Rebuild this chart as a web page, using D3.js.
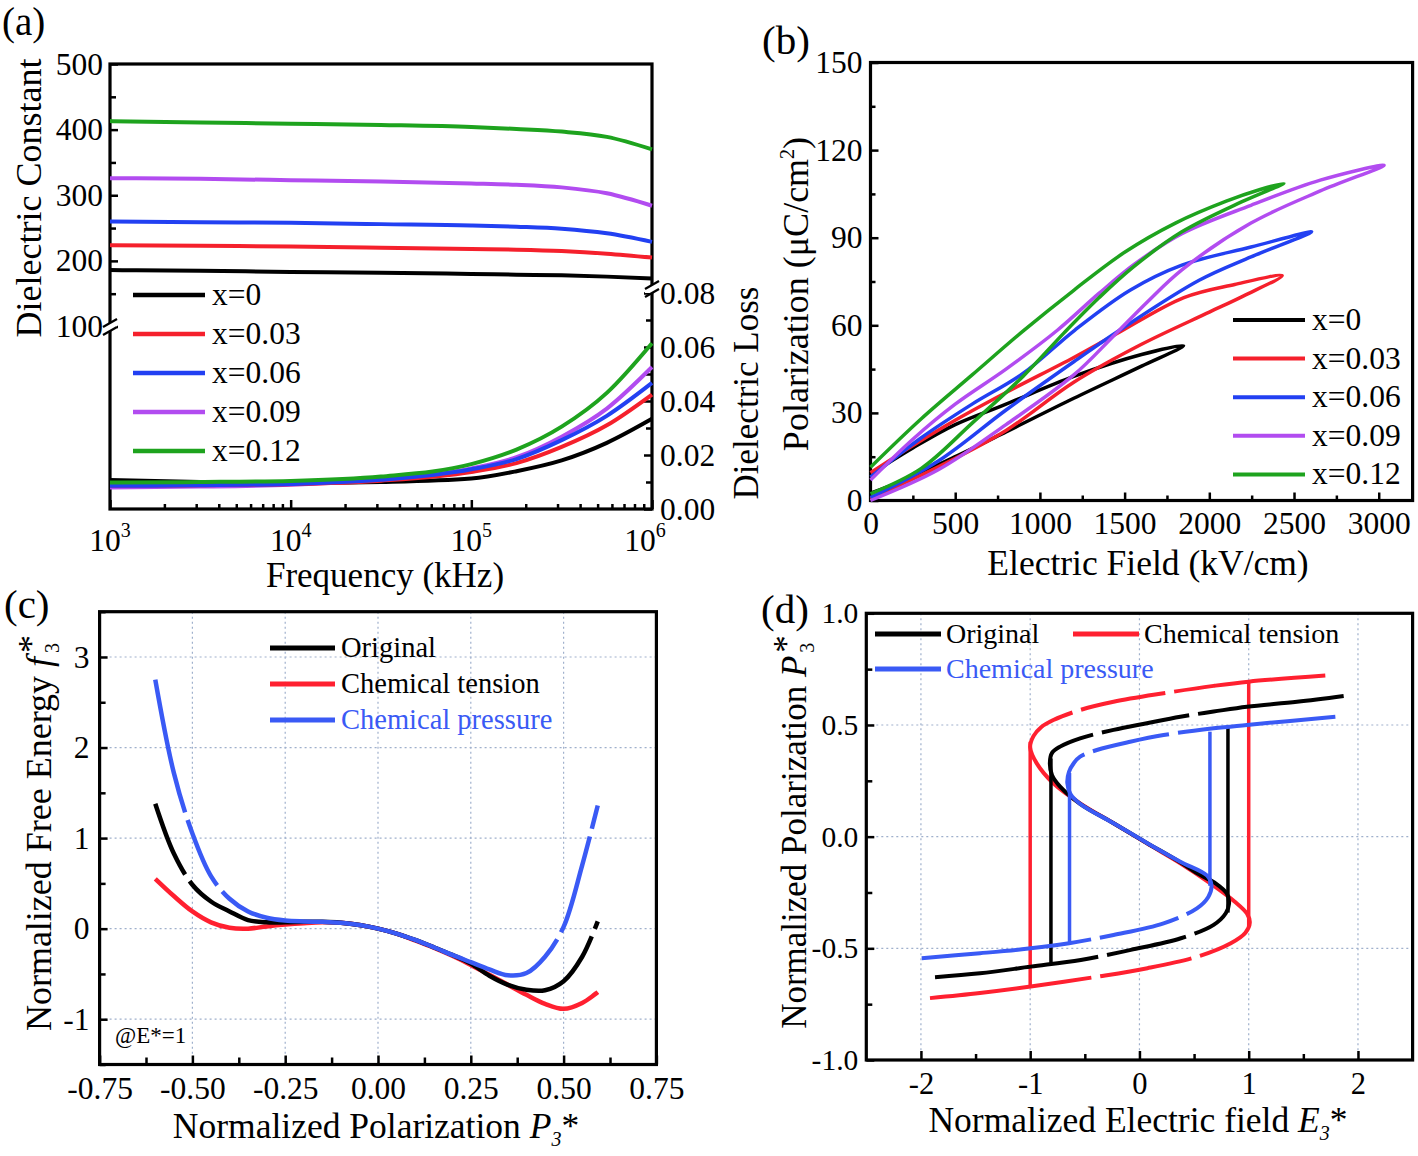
<!DOCTYPE html>
<html><head><meta charset="utf-8">
<script src="https://cdn.jsdelivr.net/npm/d3@7"></script>
<style>body{margin:0;background:#fff}svg{display:block}</style>
</head><body>
<script>
// ===================== DATA =====================
// (a) dielectric spectra
const freqKHz = [1000, 3162, 10000, 31623, 100000, 177828, 316228, 562341, 1000000];
const seriesNamesA = ["x=0", "x=0.03", "x=0.06", "x=0.09", "x=0.12"];
const epsX0   = [186, 185, 183, 182, 180, 179, 178, 176, 173];
const epsX003 = [224, 223, 222, 220, 218, 217, 215, 211, 205];
const epsX006 = [260, 259, 258, 256, 254, 252, 249, 242, 229];
const epsX009 = [326, 325, 323, 321, 318, 316, 312, 303, 284];
const epsX012 = [413, 411, 409, 407, 404, 401, 397, 389, 370];
const lossX0   = [0.0107, 0.0100, 0.0096, 0.0100, 0.0113, 0.0140, 0.0180, 0.0245, 0.0334];
const lossX003 = [0.0086, 0.0088, 0.0092, 0.0105, 0.0137, 0.0170, 0.0230, 0.0310, 0.0424];
const lossX006 = [0.0086, 0.0088, 0.0093, 0.0108, 0.0147, 0.0185, 0.0255, 0.0345, 0.0467];
const lossX009 = [0.0080, 0.0083, 0.0090, 0.0108, 0.0150, 0.0192, 0.0268, 0.0372, 0.0526];
const lossX012 = [0.0098, 0.0100, 0.0104, 0.0120, 0.0166, 0.0220, 0.0305, 0.0430, 0.0614];
const freqTickLabels = ["3", "4", "5", "6"];
const constTicks = [100, 200, 300, 400, 500];
const lossTicks = [0, 0.02, 0.04, 0.06, 0.08];

// (b) unipolar P-E loops  [E (kV/cm), P (uC/cm2)]
const peX0 = [[0,2.5],[200,7],[500,15],[800,23.5],[1200,35],[1600,46],[1848,53],[1600,50],[1200,42.5],[800,33],[500,26],[250,18],[0,9]];
const peX003 = [[0,0.5],[200,6],[400,11.5],[800,24],[1200,40.5],[1600,53.5],[2000,64.5],[2200,70],[2430,77],[2150,74],[1850,69.5],[1450,57],[1200,49],[800,37],[500,27.5],[200,17],[0,9.5]];
const peX006 = [[0,1],[400,13.5],[800,31],[1200,47.5],[1470,58.3],[1940,75.4],[2246,83.4],[2604,92],[2246,86.8],[1838,80.6],[1532,72],[1205,58.3],[900,43.5],[600,33],[300,21.5],[0,8]];
const peX009 = [[0,0],[400,10.5],[800,26],[1200,43],[1429,56],[1634,68],[1838,79],[2246,95],[2655,106],[3032,114.8],[2655,109.7],[2246,101.1],[1838,91.4],[1560,81],[1350,71],[1103,58.3],[800,45],[500,33],[250,21],[0,7]];
const peX012 = [[0,2.3],[300,11],[600,26.5],[900,42.5],[1144,57.5],[1350,69.5],[1552,80],[1838,92],[2200,102.5],[2440,108.6],[2300,106.5],[2100,102.5],[1800,95],[1500,85],[1200,72],[900,58],[600,43],[300,28],[0,11.4]];
const fieldTicks = [0, 500, 1000, 1500, 2000, 2500, 3000];
const polTicks = [0, 30, 60, 90, 120, 150];

// (c) normalized free energy vs P3*
const pGrid = [-0.6,-0.55,-0.5,-0.45,-0.4,-0.35,-0.3,-0.25,-0.2,-0.15,-0.1,-0.05,0,0.05,0.1,0.15,0.2,0.25,0.3,0.35,0.4,0.45,0.5,0.55,0.592];
const fOriginal = [1.38,0.83,0.485,0.30,0.19,0.095,0.07,0.07,0.075,0.075,0.065,0.04,0,-0.055,-0.125,-0.205,-0.29,-0.385,-0.52,-0.62,-0.675,-0.68,-0.58,-0.31,0.08];
const fTension  = [0.55,0.36,0.19,0.07,0.01,0.0,0.025,0.045,0.06,0.07,0.065,0.04,0,-0.055,-0.13,-0.21,-0.30,-0.40,-0.51,-0.62,-0.73,-0.83,-0.885,-0.82,-0.70];
const fPressure = [2.75,1.72,1.05,0.58,0.33,0.19,0.12,0.09,0.08,0.075,0.065,0.04,0,-0.055,-0.125,-0.205,-0.29,-0.37,-0.45,-0.515,-0.49,-0.31,0.02,0.70,1.36];
const seriesNamesCD = ["Original", "Chemical tension", "Chemical pressure"];
const cXTicks = [-0.75,-0.5,-0.25,0,0.25,0.5,0.75];
const cYTicks = [-1,0,1,2,3];
// visible breaks (gaps) in the drawn curves, at [P, f]
const gapsCOriginal = [[-0.512,0.56],[0.578,-0.05]];
const gapsCTension = [];
const gapsCPressure = [[-0.516,1.25],[-0.425,0.45],[0.487,-0.08],[0.578,1.05]];

// (d) normalized P3*-E3* curves  [E, P]
const sOriginal = [[-1.871,-0.629],[-1.459,-0.612],[-0.995,-0.582],[-0.537,-0.552],[-0.079,-0.507],[0.379,-0.455],[0.679,-0.395],[0.79,-0.343],[0.82,-0.30],[0.80,-0.255],[0.70,-0.21],[0.55,-0.17],[0.374,-0.115],[0.068,-0.028],[-0.237,0.06],[-0.543,0.147],[-0.726,0.224],[-0.80,0.275],[-0.82,0.33],[-0.80,0.375],[-0.726,0.403],[-0.543,0.44],[-0.237,0.478],[0.068,0.508],[0.374,0.537],[0.679,0.56],[0.984,0.582],[1.442,0.604],[1.869,0.63]];
const sTension = [[-1.917,-0.723],[-1.46,-0.70],[-0.995,-0.671],[-0.385,-0.627],[0.073,-0.589],[0.531,-0.537],[0.836,-0.477],[0.97,-0.43],[1.01,-0.385],[0.985,-0.345],[0.87,-0.29],[0.649,-0.209],[0.374,-0.119],[0.068,-0.03],[-0.237,0.06],[-0.543,0.149],[-0.788,0.239],[-0.94,0.328],[-1.0,0.40],[-0.97,0.45],[-0.9,0.49],[-0.788,0.522],[-0.543,0.567],[-0.237,0.604],[0.221,0.642],[0.679,0.675],[0.999,0.694],[1.701,0.721]];
const sPressure = [[-1.993,-0.544],[-1.459,-0.522],[-0.995,-0.5],[-0.644,-0.477],[-0.237,-0.44],[0.221,-0.388],[0.526,-0.321],[0.63,-0.27],[0.66,-0.22],[0.62,-0.175],[0.374,-0.112],[0.068,-0.028],[-0.237,0.06],[-0.543,0.147],[-0.63,0.19],[-0.66,0.24],[-0.645,0.29],[-0.6,0.33],[-0.543,0.358],[-0.39,0.388],[-0.085,0.425],[0.221,0.455],[0.679,0.485],[0.984,0.5],[1.793,0.537]];
// switching jumps: [E, P from, P to]
const jumpOriginal = [[-0.81,0.35,-0.565],[0.81,-0.34,0.492]];
const jumpTension = [[-1.0,0.425,-0.675],[1.0,-0.40,0.694]];
const jumpPressure = [[-0.64,0.285,-0.477],[0.645,-0.22,0.47]];
const gapsDOriginal = [[-0.39,0.472],[0.495,0.549],[-0.33,-0.544],[0.46,-0.44]];
const gapsDTension = [[-0.574,0.56],[0.28,0.635],[-0.40,-0.63],[0.516,-0.54]];
const gapsDPressure = [[-0.466,0.373],[0.31,0.46],[-0.40,-0.462],[0.40,-0.365]];
const dXTicks = [-2,-1,0,1,2];
const dYTicks = [-1,-0.5,0,0.5,1];

// ===================== DRAWING =====================
const FONT = '"Liberation Serif","Times New Roman",Times,serif';
const TICK = 31.5;
const colA = ["#000000", "#f5202c", "#2240f2", "#b24cf0", "#1ea31e"];
const colCD = ["#000000", "#ff2030", "#3a5af5"];
const svg = d3.select("body").append("svg").attr("width", 1418).attr("height", 1156)
  .style("font-family", FONT);

function addText(x, y, parts, o = {}) {
  const t = svg.append("text")
    .attr("transform", `translate(${x},${y})` + (o.rotate ? ` rotate(${o.rotate})` : ""))
    .attr("text-anchor", o.anchor || "start").attr("font-size", o.size || TICK)
    .attr("fill", o.fill || "#000");
  parts.forEach(p => {
    if (typeof p === "string") p = {t: p};
    const s = t.append("tspan").text(p.t);
    if (p.size) s.attr("font-size", p.size);
    if (p.dy) s.attr("dy", p.dy);
    if (p.dx) s.attr("dx", p.dx);
    if (p.italic) s.attr("font-style", "italic");
  });
  return t;
}
const hy = f => (d => (d < 0 ? "-" : "") + f(Math.abs(d)));
function axis(gen, tx, ty, size) {
  const g = svg.append("g").attr("transform", `translate(${tx},${ty})`).call(gen);
  g.attr("font-family", FONT).attr("font-size", size || TICK);
  g.select(".domain").remove();
  g.selectAll(".tick line").attr("stroke", "#000").attr("stroke-width", 2.5);
  g.selectAll(".tick text").attr("fill", "#000");
  return g;
}
function frame(x0, y0, x1, y1) {
  svg.append("rect").attr("x", x0).attr("y", y0).attr("width", x1 - x0).attr("height", y1 - y0)
    .attr("fill", "none").attr("stroke", "#000").attr("stroke-width", 3.2);
}
function applyGaps(node, gaps, sx, sy, gapLen) {
  if (!gaps.length) return;
  const L = node.getTotalLength();
  const pos = gaps.map(g => {
    const gx = sx(g[0]), gy = sy(g[1]);
    let best = 0, bd = 1e12;
    for (let s = 0; s <= L; s += 1) {
      const p = node.getPointAtLength(s);
      const d = (p.x - gx) ** 2 + (p.y - gy) ** 2;
      if (d < bd) { bd = d; best = s; }
    }
    return best;
  }).sort((a, b) => a - b);
  const arr = []; let cur = 0;
  pos.forEach(p => { const st = Math.max(cur, p - gapLen / 2); arr.push(st - cur, gapLen); cur = st + gapLen; });
  arr.push(L - cur + 20, 0);
  node.setAttribute("stroke-dasharray", arr.join(","));
}

// ---------- (a) ----------
const ax = d3.scaleLog().domain([1e3, 1e6]).range([110, 652]);
const ayU = d3.scaleLinear().domain([100, 500]).range([326.5, 64]);
const ayL = d3.scaleLinear().domain([0, 0.08]).range([509, 293]);
frame(110, 64, 652, 509);
axis(d3.axisLeft(ayU).tickValues(constTicks).tickSize(-8).tickPadding(7).tickFormat(d3.format("d")), 110, 0);
axis(d3.axisLeft(ayU).tickValues([150, 250, 350, 450]).tickSize(-6).tickFormat(""), 110, 0);
axis(d3.axisRight(ayL).tickValues(lossTicks).tickSize(-8).tickPadding(8).tickFormat(d3.format(".2f")), 652, 0);
axis(d3.axisRight(ayL).tickValues([0.01, 0.03, 0.05, 0.07]).tickSize(-6).tickFormat(""), 652, 0);
axis(d3.axisBottom(ax).tickValues([1e3, 1e4, 1e5, 1e6]).tickSize(-9).tickFormat(""), 0, 509);
const minorLog = [];
[1e3, 1e4, 1e5].forEach(b => { for (let k = 2; k <= 9; k++) minorLog.push(b * k); });
axis(d3.axisBottom(ax).tickValues(minorLog).tickSize(-5).tickFormat(""), 0, 509);
[1e3, 1e4, 1e5, 1e6].forEach((v, i) => addText(ax(v) - (i === 3 ? 7 : 0), 551, ["10", {t: freqTickLabels[i], size: 20, dy: -14}], {anchor: "middle", size: TICK}));
// axis breaks
function brk(x, y) {
  svg.append("rect").attr("x", x - 7).attr("y", y - 4).attr("width", 14).attr("height", 8).attr("fill", "#fff");
  [-4, 4].forEach(o => svg.append("line").attr("x1", x - 7).attr("y1", y + o + 4).attr("x2", x + 7).attr("y2", y + o - 4)
    .attr("stroke", "#000").attr("stroke-width", 2.2));
}
brk(110, 327); brk(652, 289);
const epsAll = [epsX0, epsX003, epsX006, epsX009, epsX012];
const lossAll = [lossX0, lossX003, lossX006, lossX009, lossX012];
const lineU = d3.line().x((d, i) => ax(freqKHz[i])).y(d => ayU(d)).curve(d3.curveMonotoneX);
const lineL = d3.line().x((d, i) => ax(freqKHz[i])).y(d => ayL(d)).curve(d3.curveMonotoneX);
[0, 3, 1, 2, 4].forEach(i => {
  svg.append("path").attr("d", lineL(lossAll[i])).attr("fill", "none").attr("stroke", colA[i]).attr("stroke-width", 4);
});
epsAll.forEach((s, i) => svg.append("path").attr("d", lineU(s)).attr("fill", "none").attr("stroke", colA[i]).attr("stroke-width", 4));
seriesNamesA.forEach((n, i) => {
  const y = 295 + i * 39;
  svg.append("line").attr("x1", 133).attr("x2", 205).attr("y1", y).attr("y2", y).attr("stroke", colA[i]).attr("stroke-width", 4.5);
  addText(212, y + 10, [n], {size: TICK});
});
addText(41, 198, ["Dielectric Constant"], {anchor: "middle", rotate: -90, size: 36});
addText(758, 393, ["Dielectric Loss"], {anchor: "middle", rotate: -90, size: 35});
addText(385, 587, ["Frequency (kHz)"], {anchor: "middle", size: 35});
addText(2, 35, ["(a)"], {size: 39});

// ---------- (b) ----------
const bx = d3.scaleLinear().domain([0, 3200]).range([870.5, 1412.6]);
const by = d3.scaleLinear().domain([0, 150]).range([500.5, 62.5]);
frame(870.5, 62.5, 1412.6, 500.5);
axis(d3.axisLeft(by).tickValues(polTicks).tickSize(-8).tickPadding(8).tickFormat(d3.format("d")), 870.5, 0);
axis(d3.axisLeft(by).tickValues([15, 45, 75, 105, 135]).tickSize(-5).tickFormat(""), 870.5, 0);
axis(d3.axisBottom(bx).tickValues(fieldTicks).tickSize(-8).tickPadding(11).tickFormat(d3.format("d")), 0, 500.5);
axis(d3.axisBottom(bx).tickValues([250, 750, 1250, 1750, 2250, 2750]).tickSize(-5).tickFormat(""), 0, 500.5);
const loopLine = d3.line().x(d => bx(d[0])).y(d => by(d[1])).curve(d3.curveCatmullRom.alpha(0.5));
[peX0, peX003, peX006, peX009, peX012].forEach((s, i) =>
  svg.append("path").attr("d", loopLine(s)).attr("fill", "none").attr("stroke", colA[i]).attr("stroke-width", 3.5).attr("stroke-linejoin", "round"));
seriesNamesA.forEach((n, i) => {
  const y = 320 + i * 38.6;
  svg.append("line").attr("x1", 1233).attr("x2", 1305).attr("y1", y).attr("y2", y).attr("stroke", colA[i]).attr("stroke-width", 4);
  addText(1312, y + 10, [n], {size: TICK});
});
addText(808, 294, ["Polarization (\u03bcC/cm", {t: "2", size: 20, dy: -14}, {t: ")", dy: 14}], {anchor: "middle", rotate: -90, size: 36});
addText(1148, 575, ["Electric Field (kV/cm)"], {anchor: "middle", size: 35.5});
addText(762, 54, ["(b)"], {size: 41});

// ---------- (c) ----------
const cx = d3.scaleLinear().domain([-0.75, 0.75]).range([99.6, 656.4]);
const cy = d3.scaleLinear().domain([-1.5, 3.5]).range([1064.5, 611.7]);
const gridC = svg.append("g").attr("stroke", "#9fb0cc").attr("stroke-width", 1.2).attr("stroke-dasharray", "2,3");
[-0.5, -0.25, 0, 0.25, 0.5].forEach(v => gridC.append("line").attr("x1", cx(v)).attr("x2", cx(v)).attr("y1", 611.7).attr("y2", 1064.5));
cYTicks.forEach(v => gridC.append("line").attr("y1", cy(v)).attr("y2", cy(v)).attr("x1", 99.6).attr("x2", 656.4));
frame(99.6, 611.7, 656.4, 1064.5);
axis(d3.axisLeft(cy).tickValues(cYTicks).tickSize(-8).tickPadding(10).tickFormat(hy(d3.format("d"))), 99.6, 0);
axis(d3.axisLeft(cy).tickValues([-1.5, -0.5, 0.5, 1.5, 2.5, 3.5]).tickSize(-6).tickFormat(""), 99.6, 0);
axis(d3.axisBottom(cx).tickValues(cXTicks).tickSize(-9).tickPadding(12).tickFormat(hy(d3.format(".2f"))), 0, 1064.5);
axis(d3.axisBottom(cx).tickValues([-0.625, -0.375, -0.125, 0.125, 0.375, 0.625]).tickSize(-7).tickFormat(""), 0, 1064.5);
const lineC = d3.line().x((d, i) => cx(pGrid[i])).y(d => cy(d)).curve(d3.curveCatmullRom.alpha(0.5));
const cSeries = [fOriginal, fTension, fPressure];
const cGaps = [gapsCOriginal, gapsCTension, gapsCPressure];
[1, 0, 2].forEach(i => {
  const p = svg.append("path").attr("d", lineC(cSeries[i])).attr("fill", "none").attr("stroke", colCD[i])
    .attr("stroke-width", 4.5).attr("stroke-linecap", "butt");
  applyGaps(p.node(), cGaps[i], cx, cy, 8);
});
seriesNamesCD.forEach((n, i) => {
  const y = 648 + i * 36;
  svg.append("line").attr("x1", 270).attr("x2", 335).attr("y1", y).attr("y2", y).attr("stroke", colCD[i]).attr("stroke-width", 5);
  addText(341, y + 9, [n], {size: 28.5, fill: i === 2 ? colCD[2] : "#000"});
});
addText(115, 1043, ["@E*=1"], {size: 23});
addText(51, 833, ["Normalized Free Energy ", {t: "f", italic: true}, {t: "3", size: 20, dy: 8, dx: 4}, {t: "*", dy: -16, dx: -10}], {anchor: "middle", rotate: -90, size: 36});
addText(376, 1138, ["Normalized Polarization ", {t: "P", italic: true}, {t: "3", size: 20, dy: 8, italic: true}, {t: "*", dy: -8}], {anchor: "middle", size: 35.5});
addText(4, 618, ["(c)"], {size: 41});

// ---------- (d) ----------
const dX = d3.scaleLinear().domain([-2.5, 2.5]).range([866.3, 1412.6]);
const dY = d3.scaleLinear().domain([-1, 1]).range([1060, 613.3]);
const gridD = svg.append("g").attr("stroke", "#9fb0cc").attr("stroke-width", 1.2).attr("stroke-dasharray", "2,3");
dXTicks.forEach(v => gridD.append("line").attr("x1", dX(v)).attr("x2", dX(v)).attr("y1", 613.3).attr("y2", 1060));
[-0.5, 0, 0.5].forEach(v => gridD.append("line").attr("y1", dY(v)).attr("y2", dY(v)).attr("x1", 866.3).attr("x2", 1412.6));
frame(866.3, 613.3, 1412.6, 1060);
axis(d3.axisLeft(dY).tickValues(dYTicks).tickSize(-8).tickPadding(8).tickFormat(hy(d3.format(".1f"))), 866.3, 0, 29.5);
axis(d3.axisLeft(dY).tickValues([-0.75, -0.25, 0.25, 0.75]).tickSize(-6).tickFormat(""), 866.3, 0);
axis(d3.axisBottom(dX).tickValues(dXTicks).tickSize(-9).tickPadding(12).tickFormat(hy(d3.format("d"))), 0, 1060, 30.5);
axis(d3.axisBottom(dX).tickValues([-1.5, -0.5, 0.5, 1.5]).tickSize(-6).tickFormat(""), 0, 1060);
const lineD = d3.line().x(d => dX(d[0])).y(d => dY(d[1])).curve(d3.curveCatmullRom.alpha(0.5));
const dSeries = [sOriginal, sTension, sPressure];
const dJumps = [jumpOriginal, jumpTension, jumpPressure];
const dGaps = [gapsDOriginal, gapsDTension, gapsDPressure];
[1, 0, 2].forEach(i => {
  dJumps[i].forEach(j => svg.append("line").attr("x1", dX(j[0])).attr("x2", dX(j[0])).attr("y1", dY(j[1])).attr("y2", dY(j[2]))
    .attr("stroke", colCD[i]).attr("stroke-width", 3.5));
  const p = svg.append("path").attr("d", lineD(dSeries[i])).attr("fill", "none").attr("stroke", colCD[i])
    .attr("stroke-width", 4).attr("stroke-linejoin", "round");
  applyGaps(p.node(), dGaps[i], dX, dY, 9);
});
[[875, 634, 0], [1073, 634, 1], [875, 669, 2]].forEach(([x, y, i]) => {
  svg.append("line").attr("x1", x).attr("x2", x + 66).attr("y1", y).attr("y2", y).attr("stroke", colCD[i]).attr("stroke-width", 5);
  addText(x + 71, y + 9, [seriesNamesCD[i]], {size: 28, fill: i === 2 ? colCD[2] : "#000"});
});
addText(806, 832, ["Normalized Polarization ", {t: "P", italic: true}, {t: "3", size: 20, dy: 8, dx: 3}, {t: "*", dy: -16, dx: -10}], {anchor: "middle", rotate: -90, size: 35});
addText(1138, 1132, ["Normalized Electric field ", {t: "E", italic: true}, {t: "3", size: 20, dy: 8, italic: true}, {t: "*", dy: -8}], {anchor: "middle", size: 35.5});
addText(761, 623, ["(d)"], {size: 41});
</script>
</body></html>
